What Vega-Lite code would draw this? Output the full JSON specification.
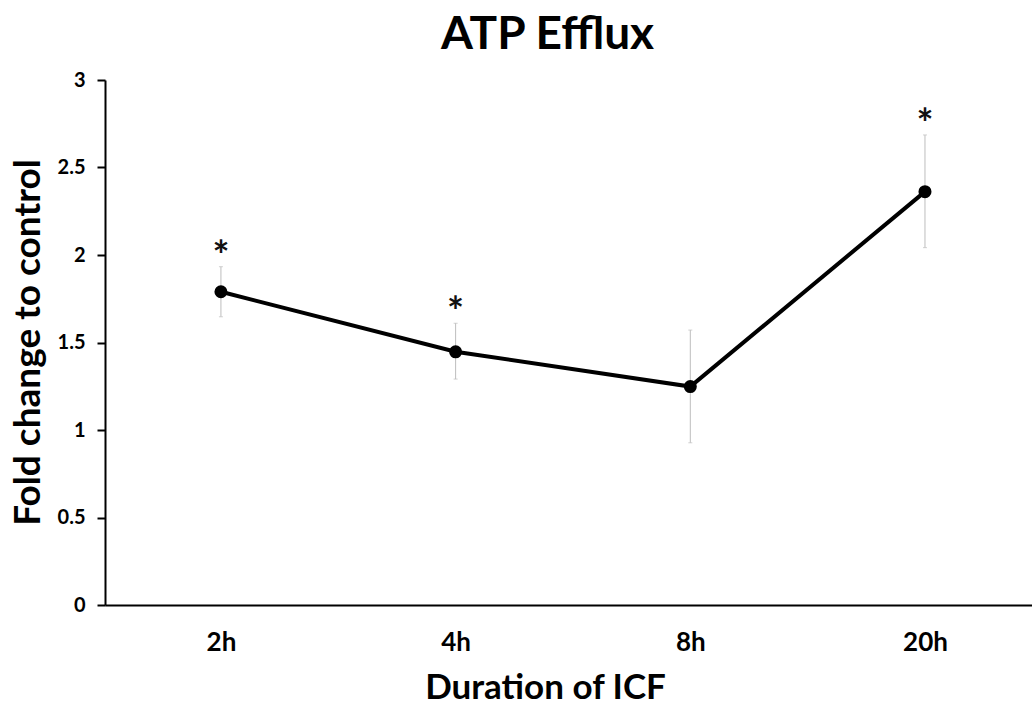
{
  "$schema": "https://vega.github.io/schema/vega-lite/v6.json",
  "autosize": {"type": "none"},
  "width": 927,
  "height": 525,
  "padding": {"left": 105, "top": 80, "right": 0, "bottom": 110},
  "background": "white",
  "config": {"view": {"stroke": null}, "font": "Lato"},
  "title": {"text": "ATP Efflux", "font": "Lato", "fontSize": 46, "fontWeight": "bold", "color": "#000", "anchor": "middle", "dx": -21, "offset": 11},
  "data": {"values": [
    {"duration": "2h", "mean": 1.79, "lower": 1.647, "upper": 1.933, "sig": "*"},
    {"duration": "4h", "mean": 1.447, "lower": 1.291, "upper": 1.61, "sig": "*"},
    {"duration": "8h", "mean": 1.248, "lower": 0.927, "upper": 1.571, "sig": ""},
    {"duration": "20h", "mean": 2.362, "lower": 2.042, "upper": 2.686, "sig": "*"}
  ]},
  "encoding": {
    "x": {"field": "duration", "type": "ordinal", "sort": ["2h", "4h", "8h", "20h"],
      "scale": {"type": "point", "padding": 0.475, "align": 0.52},
      "axis": {"title": "Duration of ICF", "titleFont": "Lato", "titleFontSize": 35, "titleFontWeight": "bold", "titleColor": "#000",
        "titleX": 440, "titleY": 82, "titleAlign": "center", "titleBaseline": "middle",
        "labelFont": "Lato", "labelFontSize": 26, "labelFontWeight": "bold", "labelColor": "#000", "labelPadding": 24,
        "labelAngle": 0, "ticks": false, "domainColor": "#000", "domainWidth": 2, "grid": false}}
  },
  "layer": [
    {
      "mark": {"type": "rule", "color": "#bdbdbd", "strokeWidth": 1},
      "encoding": {"y": {"field": "lower", "type": "quantitative"}, "y2": {"field": "upper"}}
    },
    {
      "mark": {"type": "tick", "color": "#bdbdbd", "thickness": 1, "size": 4, "orient": "horizontal"},
      "encoding": {"y": {"field": "upper", "type": "quantitative"}}
    },
    {
      "mark": {"type": "tick", "color": "#bdbdbd", "thickness": 1, "size": 4, "orient": "horizontal"},
      "encoding": {"y": {"field": "lower", "type": "quantitative"}}
    },
    {
      "mark": {"type": "line", "color": "#000", "strokeWidth": 4},
      "encoding": {"y": {"field": "mean", "type": "quantitative",
        "scale": {"domain": [0, 3]},
        "axis": {"values": [0, 0.5, 1, 1.5, 2, 2.5, 3], "format": "~g", "title": "Fold change to control", "titleFont": "Lato", "titleFontSize": 37, "titleFontWeight": "bold", "titleColor": "#000",
          "titleX": -77, "titleY": 262, "titleAngle": -90, "titleAlign": "center", "titleBaseline": "middle",
          "labelFont": "Lato", "labelFontSize": 20, "labelFontWeight": "bold", "labelColor": "#000", "labelPadding": 12,
          "tickSize": 8, "tickColor": "#000", "tickWidth": 2, "domainColor": "#000", "domainWidth": 2, "grid": false}}}
    },
    {
      "mark": {"type": "point", "filled": true, "color": "#000", "size": 170, "opacity": 1},
      "encoding": {"y": {"field": "mean", "type": "quantitative"}}
    },
    {
      "mark": {"type": "text", "font": "Lato", "fontSize": 40, "fontWeight": "bold", "color": "#111", "baseline": "middle", "dy": -9},
      "encoding": {"y": {"field": "upper", "type": "quantitative"}, "text": {"field": "sig"}}
    }
  ]
}
